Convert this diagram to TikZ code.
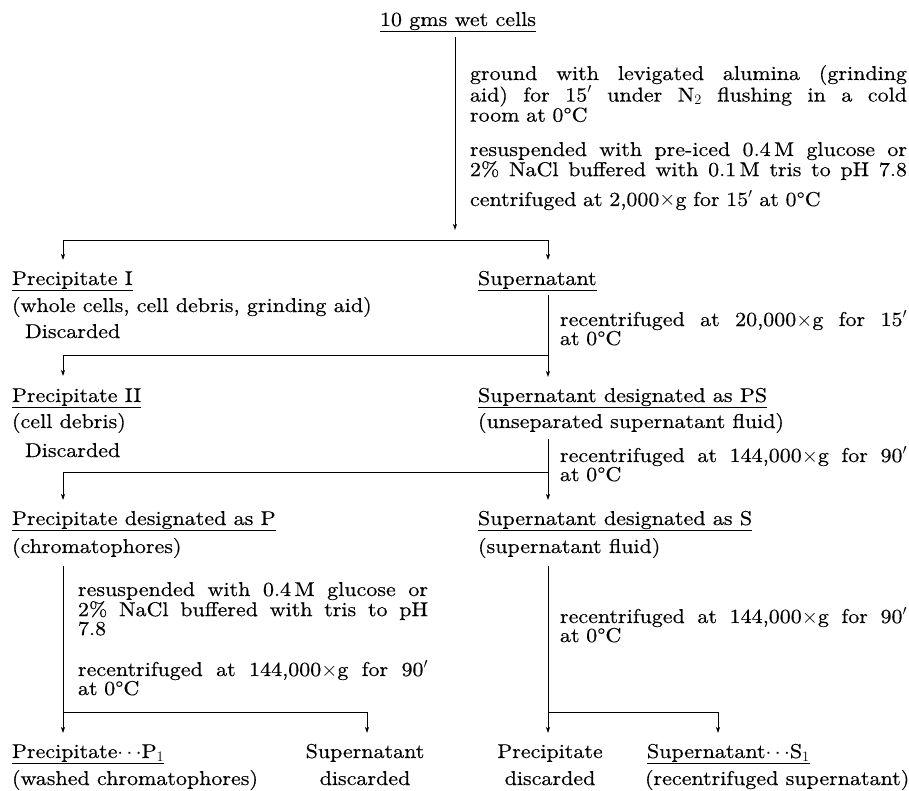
\documentclass[tikz,border=0pt]{standalone}
\usepackage{fontspec}
\setmainfont{lmroman10-regular}[Extension=.otf, FakeStretch=1.1, FakeBold=0.4]
\usetikzlibrary{arrows.meta}
\newcommand\JL[2]{\leavevmode{\spaceskip=0pt\xspaceskip=0pt\makebox[#1][s]{#2}}}
\begin{document}
\begin{tikzpicture}[x=1pt,y=-1pt,
  every node/.style={inner sep=0pt, outer sep=0pt, font=\fontsize{20}{19}\selectfont},
  lbl/.style={anchor=base west},
  note/.style={anchor=base west, align=left},
  ctr/.style={anchor=base, align=center, text width=170pt, font=\fontsize{20}{27}\selectfont},
  con/.style={line width=0.8pt},
  arr/.style={con, -{Stealth[length=6pt,width=4pt,inset=1.5pt]}}]
\useasboundingbox (0,0) rectangle (909,791);

% title and first step
\node[anchor=base east] (title) at (536,26) {\underline{10 gms wet cells}};
\coordinate (mtip) at (455,230);
\draw[arr, shorten <=5pt] (title.south -| mtip) -- (mtip);
\node[note, text width=437pt] (n1) at (470,80) {\JL{437pt}{ground with levigated alumina (grinding}\\\JL{437pt}{aid) for 15$'$ under N$_2$ flushing in a cold}\\room at 0\textdegree C};
\node[note, text width=437pt] (n2) at (470,156) {\JL{437pt}{resuspended with pre-iced 0.4\,M glucose or}\\\JL{437pt}{2\% NaCl buffered with 0.1\,M tris to pH 7.8}};
\node[note, text width=437pt] (n3) at (470,206) {centrifuged at 2,000$\times$g for 15$'$ at 0\textdegree C};

% split 1
\coordinate (h1L) at (63,240);
\coordinate (h1R) at (548,240);
\coordinate (t1L) at (63,260);
\coordinate (t1R) at (548,260);
\draw[con] (h1L) -- (h1R);
\draw[arr] (h1L) -- (t1L);
\draw[arr] (h1R) -- (t1R);

\node[lbl] (p1) at (12,285) {\underline{Precipitate I}};
\node[lbl] (p1d) at (12,312) {(whole cells, cell debris, grinding aid)};
\node[lbl] (p1x) at (25,338) {Discarded};
\node[lbl] (s1) at (478,285) {\underline{Supernatant}};

% step 2
\coordinate (v2) at (548,377);
\draw[arr, shorten <=4pt] (s1.south -| v2) -- (v2);
\node[note, text width=347pt] (n4) at (560,326) {\JL{347pt}{recentrifuged at 20,000$\times$g for 15$'$}\\at 0\textdegree C};
\coordinate (h2L) at (63,355);
\coordinate (h2R) at (548,355);
\coordinate (t2L) at (63,376);
\draw[con] (h2L) -- (h2R);
\draw[arr] (h2L) -- (t2L);

\node[lbl] (p2) at (12,402) {\underline{Precipitate II}};
\node[lbl] (p2d) at (12,428) {(cell debris)};
\node[lbl] (p2x) at (25,457) {Discarded};
\node[lbl] (s2) at (478,402) {\underline{Supernatant designated as PS}};
\node[lbl] (s2d) at (478,428) {(unseparated supernatant fluid)};

% step 3
\coordinate (v3) at (548,500);
\draw[arr, shorten <=6pt] (s2d.south -| v3) -- (v3);
\node[note, text width=347pt] (n5) at (560,462) {\JL{347pt}{recentrifuged at 144,000$\times$g for 90$'$}\\at 0\textdegree C};
\coordinate (h3L) at (63,472);
\coordinate (h3R) at (548,472);
\coordinate (t3L) at (63,500);
\draw[con] (h3L) -- (h3R);
\draw[arr] (h3L) -- (t3L);

\node[lbl] (p3) at (12,525) {\underline{Precipitate designated as P}};
\node[lbl] (p3d) at (12,553) {(chromatophores)};
\node[lbl] (s3) at (478,525) {\underline{Supernatant designated as S}};
\node[lbl] (s3d) at (478,553) {(supernatant fluid)};

% step 4 left
\coordinate (h4L) at (63,712);
\coordinate (h4R) at (367,712);
\coordinate (t4L) at (63,733);
\coordinate (t4R) at (367,733);
\draw[con, shorten <=8pt] (p3d.south -| h4L) -- (h4L) -- (h4R);
\draw[arr] (h4L) -- (t4L);
\draw[arr] (h4R) -- (t4R);
\node[note, text width=350pt] (n6) at (78,596) {\JL{350pt}{resuspended with 0.4\,M glucose or}\\\JL{350pt}{2\% NaCl buffered with tris to pH}\\7.8};
\node[note, text width=350pt] (n7) at (78,676) {\JL{350pt}{recentrifuged at 144,000$\times$g for 90$'$}\\at 0\textdegree C};

% step 4 right
\coordinate (h5L) at (548,712);
\coordinate (h5R) at (718,712);
\coordinate (t5L) at (548,733);
\coordinate (t5R) at (718,733);
\draw[con, shorten <=8pt] (s3d.south -| h5L) -- (h5L) -- (h5R);
\draw[arr] (h5L) -- (t5L);
\draw[arr] (h5R) -- (t5R);
\node[note, text width=347pt] (n8) at (560,623) {\JL{347pt}{recentrifuged at 144,000$\times$g for 90$'$}\\at 0\textdegree C};

% final products
\node[lbl] (p4) at (12,758) {\underline{Precipitate$\cdots$P$_1$}};
\node[lbl] (p4d) at (12,785) {(washed chromatophores)};
\node[ctr] (sd) at (365,758) {Supernatant\\discarded};
\node[ctr] (pd) at (550,758) {Precipitate\\discarded};
\node[lbl] (s4) at (647,758) {\underline{Supernatant$\cdots$S$_1$}};
\node[lbl] (s4d) at (645,785) {(recentrifuged supernatant)};
\end{tikzpicture}
\end{document}
